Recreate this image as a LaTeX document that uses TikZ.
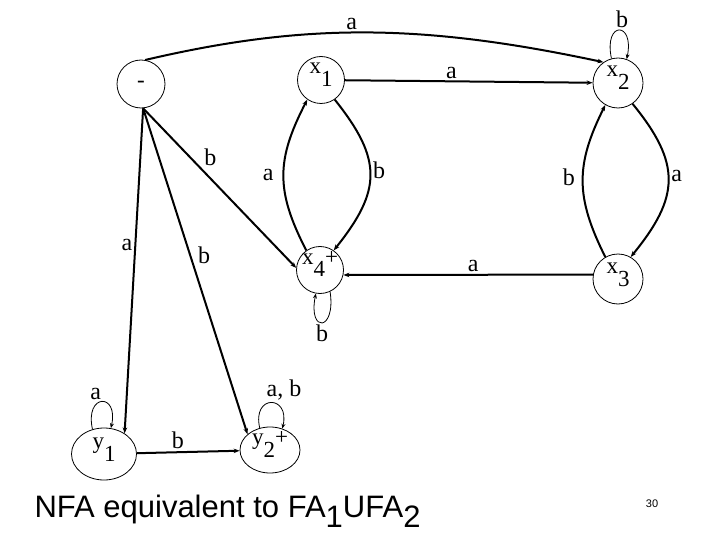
\documentclass[tikz,border=0pt]{standalone}
\usepackage{fontspec}
\setmainfont{Liberation Serif}
\newfontfamily\titlefont{Liberation Sans}
\usetikzlibrary{arrows.meta,shapes.geometric}

\newcommand{\lowd}[1]{\raisebox{-13pt}{#1}}
\newcommand{\tsub}[1]{\raisebox{-10pt}{#1}}

\begin{document}
\begin{tikzpicture}[x=1pt, y=1pt,
  state/.style={draw, circle, line width=0.8pt, minimum size=47pt, inner sep=0pt, font=\fontsize{23}{25}\selectfont, text height=6pt, text depth=18pt},
  startstate/.style={draw, circle, line width=0.8pt, minimum size=48pt, inner sep=0pt, font=\fontsize{23}{25}\selectfont},
  ystate/.style={draw, ellipse, line width=0.8pt, inner sep=0pt, font=\fontsize{23}{25}\selectfont, text height=6pt, text depth=18pt},
  edge/.style={line width=2pt, -{Stealth[length=6pt,width=4.5pt]}},
  selfloop/.style={line width=0.8pt, -{Stealth[length=5pt,width=4pt]}},
  lbl/.style={font=\fontsize{24}{26}\selectfont, inner sep=2pt}
]
  \useasboundingbox (0,0) rectangle (720,-540);

  \node[startstate] (start) at (141,-84) {-};
  \node[state] (x1) at (321,-80) {x\lowd{1}};
  \node[state, minimum size=50pt] (x2) at (618,-83) {x\lowd{2}};
  \node[state] (x4) at (320,-270) {x\lowd{4}+};
  \node[state, minimum size=50pt] (x3) at (618,-279) {x\lowd{3}};
  \node[ystate, minimum width=65pt, minimum height=52pt] (y1) at (104,-454) {y\lowd{1}};
  \node[ystate, minimum width=60pt, minimum height=46pt] (y2) at (270,-450) {y\lowd{2}+};

  \draw[edge] (start.80) .. controls (303,-23) and (420,-23) .. node[lbl, above, pos=0.47] {a} (x2.125);
  \draw[edge] (x1) -- node[lbl, above, pos=0.43] {a} (x2);
  \draw[selfloop] (x2.105) .. controls +(-8,38) and +(8,38) .. node[lbl, above, xshift=3pt] {b} (x2.70);
  \draw[edge] (x4.125) .. controls +(-31,60) and +(-31,-60) .. node[lbl, left=7pt] {a} (x1.235);
  \draw[edge] (x1.-55) .. controls +(48,-60) and +(48,60) .. node[lbl, right, yshift=5pt] {b} (x4.55);
  \draw[edge] (x3.120) .. controls +(-30,60) and +(-30,-60) .. node[lbl, left=5pt, yshift=4pt] {b} (x2.240);
  \draw[edge] (x2.-55) .. controls +(49,-60) and +(49,60) .. node[lbl, right, yshift=4pt] {a} (x3.60);
  \draw[edge] (x3.170) -- node[lbl, above, pos=0.48] {a} (x4.-12);
  \draw[selfloop] (x4.-65) .. controls +(6,-40) and +(-8,-40) .. node[lbl, below] {b} (x4.-100);

  \draw[edge] (start.-85) -- node[lbl, above right, pos=0.38] {b} (x4.175);
  \draw[edge] (start.-85) -- node[lbl, left, pos=0.42] {a} (y1.45);
  \draw[edge] (start.-85) -- node[lbl, right=5pt, pos=0.45] {b} (y2.145);

  \draw[selfloop] (y1.115) .. controls +(-8,36) and +(8,36) .. node[lbl, above, xshift=-6pt] {a} (y1.75);
  \draw[edge] (y1) -- node[lbl, above, pos=0.4] {b} (y2);
  \draw[selfloop] (y2.115) .. controls +(-8,34) and +(8,34) .. node[lbl, above, xshift=13pt] {a, b} (y2.60);

  \node[font=\titlefont\fontsize{31}{36}\selectfont, anchor=base west] (title) at (31,-517) {NFA equivalent to FA\tsub{1}UFA\tsub{2}};
  \node[font=\titlefont\fontsize{11}{12}\selectfont] (pagenum) at (652,-504) {30};
\end{tikzpicture}
\end{document}
